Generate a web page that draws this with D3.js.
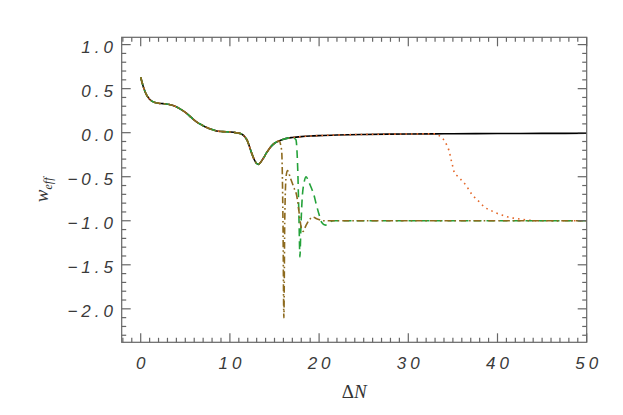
<!DOCTYPE html>
<html>

<head>
    <meta charset="utf-8">
    <style>
        body {
            margin: 0;
            background: white;
        }

        svg {
            display: block;
        }

        .tick-label {
            font-family: 'Liberation Sans', Arial, sans-serif;
            font-style: italic;
            font-size: 17px;
            letter-spacing: 4px;
            fill: #3a3a3a;
        }

        .axis-title {
            font-family: 'Liberation Serif', 'DejaVu Serif', serif;
            font-size: 19px;
            fill: #333;
        }
    </style>
</head>

<body>
    <svg width="623" height="415"></svg>
</body>

<script src="https://d3js.org/d3.v7.min.js"></script>

<script>
    // shared early part of every run
    let baseN = [0, 0.3, 0.7, 1.0, 1.4, 2.0, 2.5, 3.2, 3.85, 4.5, 5.15, 5.7, 6.3, 6.9, 7.4, 8.0, 8.5, 9.2, 10.0, 10.7,
        11.3, 11.7, 11.95, 12.2, 12.45, 12.75, 13.0, 13.2, 13.45, 13.75, 14.1, 14.5, 15.0, 15.5, 16.0, 16.5, 17.0,
        18.0, 19.0, 20.0, 22.0, 25.0, 30.0, 33.0, 35.0, 40.0, 45.0, 50.0]
    let baseW = [0.63, 0.52, 0.42, 0.38, 0.35, 0.335, 0.33, 0.32, 0.30, 0.265, 0.22, 0.17, 0.12, 0.085, 0.06, 0.035, 0.02, 0.012, 0.008, 0.0,
        -0.015, -0.05, -0.09, -0.16, -0.235, -0.31, -0.35, -0.36, -0.335, -0.29, -0.23, -0.17, -0.12, -0.095, -0.075, -0.062, -0.055,
        -0.045, -0.038, -0.033, -0.026, -0.02, -0.015, -0.013, -0.012, -0.01, -0.008, -0.007]

    // orange dotted run: leaves the base curve after N = 33
    let orangeSplit = 33
    let orangeN = [33.4, 33.8, 34.1, 34.35, 34.55, 34.7, 34.85, 35.0, 35.15, 35.6, 36.05, 36.5, 36.8, 37.2, 37.7, 38.1,
        38.6, 39.2, 39.8, 40.5, 41.1, 41.8, 42.5, 43.2, 44.5, 50]
    let orangeW = [-0.03, -0.06, -0.1, -0.15, -0.2, -0.26, -0.33, -0.39, -0.45, -0.5, -0.55, -0.6, -0.65, -0.71, -0.76, -0.8,
        -0.85, -0.88, -0.91, -0.935, -0.955, -0.97, -0.98, -0.99, -1.0, -1.0]

    // green dashed run: leaves after N = 17
    let greenSplit = 17
    let greenN = [17.4, 17.6, 17.75, 17.85, 17.95, 18.1, 18.35, 18.55, 18.8, 19.1, 19.4, 19.7, 20.0, 20.3, 20.7, 21.1, 21.6, 50]
    let greenW = [-0.08, -0.4, -1.0, -1.41, -1.1, -0.75, -0.55, -0.5, -0.55, -0.62, -0.7, -0.82, -0.93, -1.02, -1.05, -1.02, -1.0, -1.0]

    // brown dash-dot run: leaves after N = 15.5
    let brownSplit = 15.5
    let brownN = [15.8, 15.95, 16.05, 16.15, 16.3, 16.45, 16.8, 17.2, 17.5, 17.75, 18.0, 18.2, 18.5, 18.9, 19.3, 19.8, 20.5, 50]
    let brownW = [-0.2, -1.0, -2.1, -1.0, -0.5, -0.43, -0.52, -0.63, -0.72, -0.9, -1.08, -1.12, -1.06, -0.99, -0.96, -0.98, -1.0, -1.0]

    let xTicks = [0, 10, 20, 30, 40, 50]
    let yTicks = [1.0, 0.5, 0.0, -0.5, -1.0, -1.5, -2.0]

    let svg = d3.select("svg")

    let mLeft = 121.7, mRight = 586.7, mTop = 37.3, mBottom = 342.3

    let x = d3.scaleLinear().domain([-2.13, 50]).range([mLeft, mRight])
    let y = d3.scaleLinear().domain([-2.38, 1.083]).range([mBottom, mTop])

    let line = d3.line()
        .x(d => x(d[0]))
        .y(d => y(d[1]))
        .curve(d3.curveMonotoneX)

    function run(split, n, w) {
        let pts = baseN.map((v, i) => [v, baseW[i]]).filter(d => d[0] <= split)
        return pts.concat(n.map((v, i) => [v, w[i]]))
    }

    let plot = svg.append("g")

    let series = [
        { pts: baseN.map((v, i) => [v, baseW[i]]), color: "#000000", dash: null },
        { pts: run(orangeSplit, orangeN, orangeW), color: "#e4682a", dash: "1.6,4" },
        { pts: run(greenSplit, greenN, greenW), color: "#24a23a", dash: "8,5" },
        { pts: run(brownSplit, brownN, brownW), color: "#8d6a1e", dash: "7,3,1.6,3" }
    ]

    plot.selectAll(".run")
        .data(series)
        .join("path")
        .attr("class", "run")
        .attr("d", d => line(d.pts))
        .style("fill", "none")
        .style("stroke", d => d.color)
        .style("stroke-width", 1.6)
        .style("stroke-dasharray", d => d.dash)

    // frame with inward ticks on all four sides
    let axes = svg.append("g").style("stroke", "#666").style("stroke-width", 1.2)

    axes.append("rect")
        .attr("x", mLeft).attr("y", mTop)
        .attr("width", mRight - mLeft).attr("height", mBottom - mTop)
        .style("fill", "none")

    let xMinor = d3.range(-2, 51, 1)
    let yMinor = d3.range(-23, 11, 1).map(d => d / 10)

    xMinor.forEach(v => {
        let len = v % 10 === 0 ? 9 : 4.5
        let px = x(v)
        axes.append("line").attr("x1", px).attr("x2", px).attr("y1", mBottom).attr("y2", mBottom - len)
        axes.append("line").attr("x1", px).attr("x2", px).attr("y1", mTop).attr("y2", mTop + len)
    })

    yMinor.forEach(v => {
        let len = Math.abs(Math.round(v * 10)) % 5 === 0 ? 9 : 4.5
        let py = y(v)
        axes.append("line").attr("y1", py).attr("y2", py).attr("x1", mLeft).attr("x2", mLeft + len)
        axes.append("line").attr("y1", py).attr("y2", py).attr("x1", mRight).attr("x2", mRight - len)
    })

    svg.selectAll(".xlab")
        .data(xTicks)
        .join("text")
        .attr("class", "tick-label xlab")
        .attr("x", d => x(d) + 2)
        .attr("y", 369)
        .attr("text-anchor", "middle")
        .text(d => d)

    svg.selectAll(".ylab")
        .data(yTicks)
        .join("text")
        .attr("class", "tick-label ylab")
        .attr("x", 117)
        .attr("y", d => y(d) + 8)
        .attr("text-anchor", "end")
        .text(d => (d < 0 ? "\u2212" : "") + Math.abs(d).toFixed(1))

    // axis titles
    let xt = svg.append("text")
        .attr("class", "axis-title")
        .attr("x", (mLeft + mRight) / 2)
        .attr("y", 398)
        .attr("text-anchor", "middle")
    xt.append("tspan").text("\u0394")
    xt.append("tspan").style("font-style", "italic").text("N")

    let yt = svg.append("text")
        .attr("class", "axis-title")
        .attr("transform", "translate(48," + ((mTop + mBottom) / 2) + ") rotate(-90)")
        .attr("text-anchor", "middle")
        .style("font-style", "italic")
    yt.append("tspan").text("w")
    yt.append("tspan").attr("dy", 4).style("font-size", "12px").text("eff")

</script>

</html>
